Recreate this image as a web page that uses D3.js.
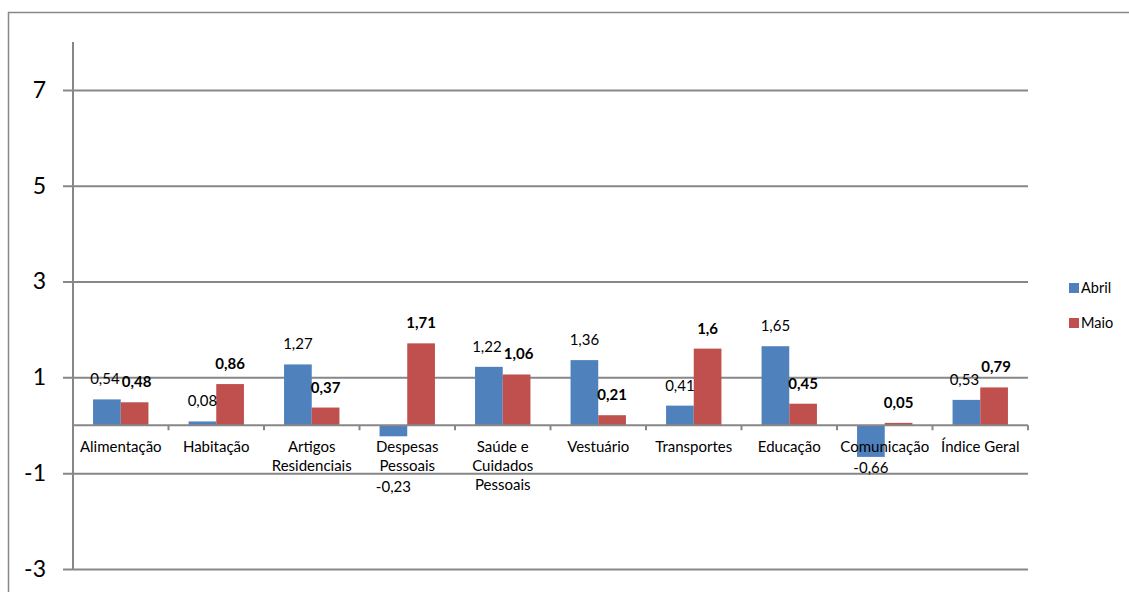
<!DOCTYPE html>
<html>
<head>
<meta charset="utf-8">
<script src="https://cdn.jsdelivr.net/npm/d3@7"></script>
<style>
  body { margin: 0; background: #fff; }
  svg { font-family: Lato, "Noto Sans", sans-serif; }
</style>
</head>
<body>
<div id="chart"></div>
<script>
var categories = [["Alimentação"], ["Habitação"], ["Artigos", "Residenciais"], ["Despesas", "Pessoais"],
    ["Saúde e", "Cuidados", "Pessoais"], ["Vestuário"], ["Transportes"], ["Educação"], ["Comunicação"], ["Índice Geral"]];
var seriesNames = ["Abril", "Maio"];
var abril = [0.54, 0.08, 1.27, -0.23, 1.22, 1.36, 0.41, 1.65, -0.66, 0.53];
var maio = [0.48, 0.86, 0.37, 1.71, 1.06, 0.21, 1.6, 0.45, 0.05, 0.79];
var yTicks = [-3, -1, 1, 3, 5, 7];
var colors = ["#4F81BD", "#C0504D"];

var W = 1129, H = 592;
var margin = {top: 42, right: 101, bottom: 23, left: 73},
    width = W - margin.left - margin.right,
    height = H - margin.top - margin.bottom;

var root = d3.select("#chart").append("svg")
    .attr("width", W)
    .attr("height", H);

// outer frame (runs off the bottom/right edge like the original)
root.append("rect")
    .attr("x", 8.5).attr("y", 12.5)
    .attr("width", 1140).attr("height", 600)
    .attr("fill", "none")
    .attr("stroke", "#888")
    .attr("stroke-width", 1.5);

var svg = root.append("g")
    .attr("transform", "translate(" + margin.left + "," + margin.top + ")");

var x = d3.scaleBand()
    .domain(d3.range(categories.length))
    .range([0, width]);
var y = d3.scaleLinear()
    .domain([-3, 8])
    .range([height, 0]);

var groupW = x.bandwidth() * 0.58;
var xs = d3.scaleBand()
    .domain([0, 1])
    .range([(x.bandwidth() - groupW) / 2, (x.bandwidth() + groupW) / 2]);

// gridlines with ticks
var yAxis = svg.append("g")
    .call(d3.axisLeft(y).tickValues(yTicks).tickSize(-width).tickSizeOuter(0).tickFormat(d3.format("d")));
yAxis.select(".domain").remove();
yAxis.selectAll(".tick line")
    .attr("x1", -10)
    .attr("stroke", "#878787")
    .attr("stroke-width", 2);
yAxis.selectAll(".tick text")
    .attr("x", -27)
    .attr("font-size", 23)
    .attr("font-family", "Lato, sans-serif")
    .attr("fill", "#000")
    .text(function (d) { return d < 0 ? "-" + Math.abs(d) : d; });

// vertical axis line
svg.append("line")
    .attr("x1", 0).attr("x2", 0)
    .attr("y1", 0).attr("y2", height)
    .attr("stroke", "#878787")
    .attr("stroke-width", 2);

var data = [];
categories.forEach(function (c, i) {
    data.push({i: i, s: 0, v: abril[i]});
    data.push({i: i, s: 1, v: maio[i]});
});

svg.selectAll(".bar")
    .data(data)
    .enter().append("rect")
    .attr("class", "bar")
    .attr("x", function (d) { return x(d.i) + xs(d.s); })
    .attr("width", xs.bandwidth())
    .attr("y", function (d) { return y(Math.max(0, d.v)); })
    .attr("height", function (d) { return Math.abs(y(d.v) - y(0)); })
    .attr("fill", function (d) { return colors[d.s]; });

// category axis at zero
svg.append("line")
    .attr("x1", 0).attr("x2", width)
    .attr("y1", y(0)).attr("y2", y(0))
    .attr("stroke", "#878787")
    .attr("stroke-width", 2);
svg.selectAll(".xtick")
    .data(d3.range(categories.length + 1))
    .enter().append("line")
    .attr("class", "xtick")
    .attr("x1", function (i) { return i * x.bandwidth(); })
    .attr("x2", function (i) { return i * x.bandwidth(); })
    .attr("y1", y(0)).attr("y2", y(0) + 5)
    .attr("stroke", "#878787")
    .attr("stroke-width", 2);

var catText = svg.selectAll(".cat")
    .data(categories)
    .enter().append("text")
    .attr("class", "cat")
    .attr("text-anchor", "middle")
    .attr("font-size", 15)
    .attr("fill", "#000")
    .attr("transform", function (d, i) {
        return "translate(" + (x(i) + x.bandwidth() / 2) + "," + (y(0) + 27) + ")";
    });
catText.selectAll("tspan")
    .data(function (d) { return d; })
    .enter().append("tspan")
    .attr("x", 0)
    .attr("dy", function (d, k) { return k === 0 ? 0 : 19; })
    .text(function (d) { return d; });

// value labels
function fmt(v) { return String(v).replace(".", ","); }
svg.selectAll(".val")
    .data(data)
    .enter().append("text")
    .attr("class", "val")
    .attr("text-anchor", "middle")
    .attr("font-size", 15)
    .attr("font-weight", function (d) { return d.s === 1 ? "bold" : "normal"; })
    .attr("fill", "#000")
    .attr("x", function (d) {
        var cx = x(d.i) + xs(d.s) + xs.bandwidth() / 2;
        // spread the two labels a little when they sit side by side at the same height
        var other = d.s === 0 ? maio[d.i] : abril[d.i];
        if (d.v > 0 && other > 0 && Math.abs(d.v - other) < 0.3) cx += d.s === 0 ? -2 : 2;
        return cx;
    })
    .attr("y", function (d) {
        if (d.v >= 0) return y(d.v) - 15;
        // negative: below the bar end, pushed under the category text if it would collide
        var base = y(d.v) + 16;
        var lines = categories[d.i].length;
        if (lines > 1) base = y(0) + 27 + lines * 19 + 2;
        return base;
    })
    .text(function (d) { return fmt(d.v); });

// legend
var legend = root.append("g")
    .attr("transform", "translate(1069,283)");
var li = legend.selectAll(".leg")
    .data(seriesNames)
    .enter().append("g")
    .attr("class", "leg")
    .attr("transform", function (d, i) { return "translate(0," + (i * 35) + ")"; });
li.append("rect")
    .attr("width", 10).attr("height", 10)
    .attr("fill", function (d, i) { return colors[i]; });
li.append("text")
    .attr("x", 12).attr("y", 9.5)
    .attr("font-size", 14.5)
    .attr("fill", "#000")
    .text(function (d) { return d; });
</script>
</body>
</html>
